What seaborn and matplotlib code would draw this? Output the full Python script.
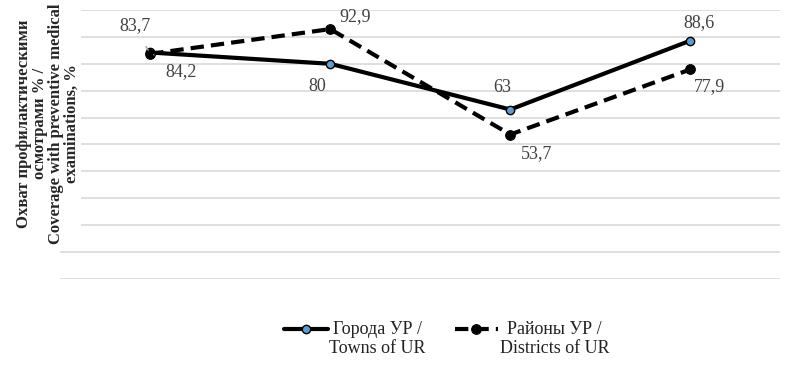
import numpy as np
import pandas as pd
import matplotlib
matplotlib.use("Agg")
import matplotlib.pyplot as plt
import seaborn as sns
from matplotlib.legend_handler import HandlerLine2D

# data
positions = ["p1", "p2", "p3", "p4"]
towns = [84.2, 80.0, 63.0, 88.6]
districts = [83.7, 92.9, 53.7, 77.9]
towns_label = "Города УР /\nTowns of UR"
districts_label = "Районы УР /\nDistricts of UR"
ylabel = ("Охват профилактическими\nосмотрами % /\n"
          "Coverage with preventive medical\nexaminations, %")

# label offsets (points) for each value
towns_off = [(22, -14), (-9, -16), (-6, 16), (6, 13)]
districts_off = [(-11, 20), (18, 9), (19, -14), (14, -12)]


class TopLineHandler(HandlerLine2D):
    # put the legend line on the first text line, as in the source
    def create_artists(self, legend, orig_handle, xdescent, ydescent,
                       width, height, fontsize, trans):
        arts = super().create_artists(legend, orig_handle, xdescent, ydescent,
                                      width, height, fontsize, trans)
        for a in arts:
            a.set_ydata(np.asarray(a.get_ydata()) + 0.58 * fontsize)
        return arts


sns.set_style("white")
plt.rcParams["font.family"] = ["Liberation Serif", "DejaVu Serif"]

df = pd.DataFrame({
    "x": positions * 2,
    "value": towns + districts,
    "series": [towns_label] * 4 + [districts_label] * 4,
})

fig = plt.figure(figsize=(8.02, 3.70), dpi=100)
ax = fig.add_axes([0.075, 0.246, 0.898, 0.727])

sns.lineplot(data=df[df.series == towns_label], x="x", y="value", ax=ax,
             color="black", lw=3, marker="o", markersize=6,
             markerfacecolor="#5B9BD5", markeredgecolor="black",
             markeredgewidth=1, label=towns_label, sort=False)
sns.lineplot(data=df[df.series == districts_label], x="x", y="value", ax=ax,
             color="black", lw=3, linestyle="--",
             marker="o", markersize=7, markerfacecolor="black",
             markeredgecolor="black", label=districts_label, sort=False)
ax.lines[1].set_dashes((3.2, 1.7))

for i, v in enumerate(towns):
    ax.annotate(f"{v:g}".replace(".", ","), (i, v), xytext=towns_off[i],
                textcoords="offset points", ha="center", va="center",
                fontsize=13, color="#404040",
                arrowprops=dict(arrowstyle="-", color="#A0A0A0", lw=1,
                                shrinkA=7, shrinkB=3) if i < 3 else None)
for i, v in enumerate(districts):
    ax.annotate(f"{v:g}".replace(".", ","), (i, v), xytext=districts_off[i],
                textcoords="offset points", ha="center", va="center",
                fontsize=13, color="#404040",
                arrowprops=dict(arrowstyle="-", color="#A0A0A0", lw=1,
                                shrinkA=7, shrinkB=3) if i == 0 else None)

ax.set_ylim(0, 100)
ax.set_xlim(-0.5, 3.5)
ax.set_yticks(np.arange(0, 101, 10))
ax.set_yticklabels([])
ax.set_xticks([])
ax.tick_params(left=False, bottom=False)
ax.yaxis.grid(True, color="#D9D9D9", lw=1.2)
ax.set_axisbelow(True)
for s in ax.spines.values():
    s.set_visible(False)
ax.set_xlabel("")
ax.set_ylabel(ylabel, fontsize=12, fontweight="bold", linespacing=1.0,
              va="center",
              bbox=dict(facecolor="white", edgecolor="none", pad=1))
ax.yaxis.set_label_coords(-0.017, 0.578)

leg = ax.legend(loc="upper center", bbox_to_anchor=(0.537, -0.095), ncol=2,
                frameon=False, fontsize=13, handlelength=2.4,
                handletextpad=0.1, columnspacing=1.6, labelcolor="#222222",
                handler_map={plt.Line2D: TopLineHandler()})
for t in leg.get_texts():
    t.set_multialignment("center")

fig.savefig("out.png", dpi=100)
